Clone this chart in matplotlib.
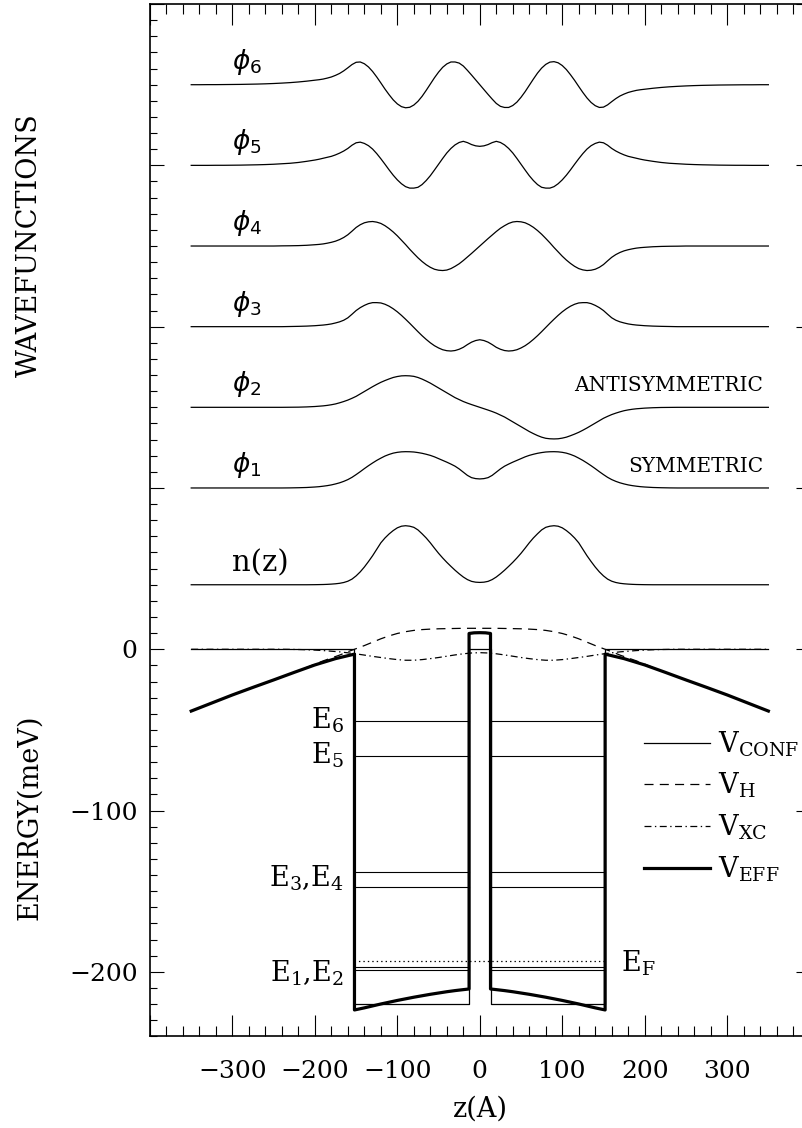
import numpy as np
import matplotlib.pyplot as plt
from matplotlib.ticker import MultipleLocator, FuncFormatter

plt.rcParams['font.family'] = 'DejaVu Serif'
plt.rcParams['mathtext.fontset'] = 'dejavuserif'
plt.rcParams['lines.scale_dashes'] = False

# sample positions for the wavefunctions and density (Angstrom)
z = list(range(-350, -200, 10)) + list(range(-200, 201, 5)) + list(range(210, 351, 10))

phi6 = [0, 0, 0.05, 0.05, 0.1, 0.15, 0.2, 0.3, 0.4, 0.55, 0.75, 1.0, 1.3, 1.7, 2.2,
        2.8, 3.1, 3.5, 4.1, 4.8, 5.8, 7.0, 8.6, 10.5, 12.5, 13.9,
        14.1, 13.0, 11.0, 8.2, 4.8, 1.1, -2.7, -6.2, -9.4, -11.9, -13.6, -14.3, -14.0, -12.6, -10.3,
        -7.2, -3.5, 0.4, 4.3, 7.8, 10.8, 12.9, 14.1, 14.1, 13.4, 11.6, 8.9, 6.0, 3.0,
        0,
        -3.0, -6.0, -8.9, -11.6, -13.4, -14.1, -14.1, -12.9, -10.8, -7.8, -4.3, -0.4, 3.5, 7.2,
        10.3, 12.6, 14.0, 14.3, 13.6, 11.9, 9.4, 6.2, 2.7, -1.1, -4.8, -8.2, -11.0, -13.0, -14.1,
        -13.9, -12.5, -10.5, -8.6, -7.0, -5.8, -4.8, -4.1, -3.5, -3.1, -2.8,
        -2.2, -1.7, -1.3, -1.0, -0.75, -0.55, -0.4, -0.3, -0.2, -0.15, -0.1, -0.05, -0.05, 0, 0]
phi5 = [0, 0, 0, 0.05, 0.05, 0.1, 0.15, 0.25, 0.35, 0.5, 0.7, 1.0, 1.3, 1.8, 2.5,
        3.3, 3.8, 4.4, 5.0, 5.6, 6.5, 7.6, 8.9, 10.5, 12.5, 14.0,
        14.4, 13.6, 12.2, 10.1, 7.3, 4.1, 0.7, -2.8, -6.1, -9.0, -11.4, -13.2, -14.1, -14.1, -13.6,
        -11.9, -9.4, -6.4, -2.9, 0.7, 4.3, 7.7, 10.5, 12.7, 14.2, 14.9, 14.1, 12.9, 12.1,
        11.8,
        12.1, 12.9, 14.1, 14.9, 14.2, 12.7, 10.5, 7.7, 4.3, 0.7, -2.9, -6.4, -9.4, -11.9,
        -13.6, -14.1, -14.1, -13.2, -11.4, -9.0, -6.1, -2.8, 0.7, 4.1, 7.3, 10.1, 12.2, 13.6, 14.4,
        14.0, 12.5, 10.5, 8.9, 7.6, 6.5, 5.6, 5.0, 4.4, 3.8, 3.3,
        2.5, 1.8, 1.3, 1.0, 0.7, 0.5, 0.35, 0.25, 0.15, 0.1, 0.05, 0.05, 0, 0, 0]
phi4 = [0, 0, 0, 0, 0, 0, 0, 0, 0, 0, 0, 0.1, 0.15, 0.25, 0.45,
        0.8, 1.0, 1.3, 1.75, 2.3, 3.0, 4.0, 5.3, 7.0, 9.2, 11.5,
        13.2, 14.4, 15.0, 15.2, 14.8, 14.0, 12.6, 10.8, 8.7, 6.3, 3.6, 0.9, -2.0, -4.7, -7.3,
        -9.6, -11.6, -13.2, -14.4, -15.0, -15.2, -14.9, -14.0, -12.6, -11.0, -9.0, -6.8, -4.6, -2.3,
        0,
        2.3, 4.6, 6.8, 9.0, 11.0, 12.6, 14.0, 14.9, 15.2, 15.0, 14.4, 13.2, 11.6, 9.6,
        7.3, 4.7, 2.0, -0.9, -3.6, -6.3, -8.7, -10.8, -12.6, -14.0, -14.8, -15.2, -15.0, -14.4, -13.2,
        -11.5, -9.2, -7.0, -5.3, -4.0, -3.0, -2.3, -1.75, -1.3, -1.0, -0.8,
        -0.45, -0.25, -0.15, -0.1, 0, 0, 0, 0, 0, 0, 0, 0, 0, 0, 0]
phi3 = [0, 0, 0, 0, 0, 0, 0, 0, 0, 0, 0, 0, 0.1, 0.2, 0.35,
        0.6, 0.8, 1.0, 1.3, 1.7, 2.3, 3.0, 4.0, 5.5, 7.7, 10.0,
        11.8, 13.2, 14.3, 14.9, 14.9, 14.7, 13.9, 12.7, 11.1, 9.2, 7.0, 4.6, 2.1, -0.5, -3.1,
        -5.6, -7.9, -10.0, -11.8, -13.2, -14.3, -14.9, -15.1, -14.8, -14.0, -12.8, -11.1, -9.6, -8.6,
        -8.1,
        -8.6, -9.6, -11.1, -12.8, -14.0, -14.8, -15.1, -14.9, -14.3, -13.2, -11.8, -10.0, -7.9, -5.6,
        -3.1, -0.5, 2.1, 4.6, 7.0, 9.2, 11.1, 12.7, 13.9, 14.7, 14.9, 14.9, 14.3, 13.2, 11.8,
        10.0, 7.7, 5.5, 4.0, 3.0, 2.3, 1.7, 1.3, 1.0, 0.8, 0.6,
        0.35, 0.2, 0.1, 0, 0, 0, 0, 0, 0, 0, 0, 0, 0, 0, 0]
phi2 = [0, 0, 0, 0, 0, 0, 0, 0, 0, 0, 0, 0, 0.05, 0.1, 0.25,
        0.5, 0.7, 0.9, 1.2, 1.6, 2.1, 2.8, 3.6, 4.5, 5.6, 6.8,
        8.3, 9.8, 11.3, 12.8, 14.2, 15.5, 16.6, 17.6, 18.5, 19.1, 19.5, 19.6, 19.5, 19.2, 18.5,
        17.5, 16.3, 15.0, 13.5, 12.0, 10.5, 9.0, 7.5, 6.0, 4.8, 3.6, 2.6, 1.7, 0.85,
        0,
        -0.85, -1.7, -2.6, -3.6, -4.8, -6.0, -7.5, -9.0, -10.5, -12.0, -13.5, -15.0, -16.3, -17.5,
        -18.5, -19.2, -19.5, -19.6, -19.5, -19.1, -18.5, -17.6, -16.6, -15.5, -14.2, -12.8, -11.3, -9.8, -8.3,
        -6.8, -5.6, -4.5, -3.6, -2.8, -2.1, -1.6, -1.2, -0.9, -0.7, -0.5,
        -0.25, -0.1, -0.05, 0, 0, 0, 0, 0, 0, 0, 0, 0, 0, 0, 0]
phi1 = [0, 0, 0, 0, 0, 0, 0, 0, 0, 0, 0, 0, 0.05, 0.15, 0.3,
        0.6, 0.8, 1.1, 1.45, 1.9, 2.5, 3.2, 4.1, 5.2, 6.6, 8.3,
        10.1, 12.0, 13.8, 15.5, 17.1, 18.5, 19.8, 20.8, 21.6, 22.1, 22.4, 22.5, 22.45, 22.3, 21.95,
        21.5, 20.9, 20.2, 19.3, 18.2, 17.1, 16.0, 14.8, 13.5, 11.8, 9.8, 7.8, 6.4, 5.8,
        5.6,
        5.8, 6.4, 7.8, 9.8, 11.8, 13.5, 14.8, 16.0, 17.1, 18.2, 19.3, 20.2, 20.9, 21.5,
        21.95, 22.3, 22.45, 22.5, 22.4, 22.1, 21.6, 20.8, 19.8, 18.5, 17.1, 15.5, 13.8, 12.0, 10.1,
        8.3, 6.6, 5.2, 4.1, 3.2, 2.5, 1.9, 1.45, 1.1, 0.8, 0.6,
        0.3, 0.15, 0.05, 0, 0, 0, 0, 0, 0, 0, 0, 0, 0, 0, 0]
density = [0, 0, 0, 0, 0, 0, 0, 0, 0, 0, 0, 0, 0, 0, 0,
           0.05, 0.1, 0.15, 0.25, 0.4, 0.6, 0.9, 1.4, 2.2, 3.5, 5.5,
           8.0, 11.0, 14.4, 18.0, 22.0, 26.0, 29.0, 31.5, 33.6, 35.3, 36.3, 36.6, 36.3, 35.6, 34.0,
           31.6, 29.0, 26.0, 22.7, 19.5, 16.6, 13.9, 11.4, 9.0, 6.8, 4.8, 3.2, 2.1, 1.6,
           1.45,
           1.6, 2.1, 3.2, 4.8, 6.8, 9.0, 11.4, 13.9, 16.6, 19.5, 22.7, 26.0, 29.0, 31.6,
           34.0, 35.6, 36.3, 36.6, 36.3, 35.3, 33.6, 31.5, 29.0, 26.0, 22.0, 18.0, 14.4, 11.0, 8.0,
           5.5, 3.5, 2.2, 1.4, 0.9, 0.6, 0.4, 0.25, 0.15, 0.1, 0.05,
           0, 0, 0, 0, 0, 0, 0, 0, 0, 0, 0, 0, 0, 0, 0]

# potentials (meV)
z_conf = [-350, -152, -152, -13, -13, 13, 13, 152, 152, 350]
v_conf = [0, 0, -220, -220, 0, 0, -220, -220, 0, 0]

z_pot = [-350, -300, -250, -240, -230, -220, -210, -200, -190, -180, -170, -160, -152,
         -140, -130, -120, -110, -100, -90, -80, -70, -60, -50, -40, -30, -20, -10, 0,
         10, 20, 30, 40, 50, 60, 70, 80, 90, 100, 110, 120, 130, 140,
         152, 160, 170, 180, 190, 200, 210, 220, 230, 240, 250, 300, 350]
v_h = [-38.3, -28.3, -19.0, -17.1, -15.2, -13.3, -11.3, -9.2, -7.2, -5.4, -3.6, -1.5, 0,
       2.3, 4.4, 6.5, 8.3, 9.8, 10.9, 11.7, 12.2, 12.5, 12.7, 12.8, 12.9, 13.0, 13.0, 13.0,
       13.0, 13.0, 12.9, 12.8, 12.7, 12.5, 12.2, 11.7, 10.9, 9.8, 8.3, 6.5, 4.4, 2.3,
       0, -1.5, -3.6, -5.4, -7.2, -9.2, -11.3, -13.3, -15.2, -17.1, -19.0, -28.3, -38.3]
v_xc = [0, 0, 0, 0, -0.05, -0.15, -0.3, -0.5, -0.8, -1.2, -1.6, -2.2, -2.7,
        -3.6, -4.4, -5.1, -5.8, -6.4, -6.8, -6.8, -6.4, -5.8, -5.1, -4.3, -3.5, -2.8, -2.3, -2.1,
        -2.3, -2.8, -3.5, -4.3, -5.1, -5.8, -6.4, -6.8, -6.8, -6.4, -5.8, -5.1, -4.4, -3.6,
        -2.7, -2.2, -1.6, -1.2, -0.8, -0.5, -0.3, -0.15, -0.05, 0, 0, 0, 0]

z_eff = [-350, -325, -300, -275, -250, -225, -200, -175, -152, -152,
         -140, -130, -120, -110, -100, -90, -80, -70, -60, -50, -40, -30, -20, -13, -13,
         -7, 0, 7,
         13, 13, 20, 30, 40, 50, 60, 70, 80, 90, 100, 110, 120, 130, 140,
         152, 152, 175, 200, 225, 250, 275, 300, 325, 350]
v_eff = [-38.3, -33.3, -28.3, -23.6, -19.0, -14.3, -9.7, -5.8, -3.0, -223.6,
         -222.3, -221.1, -219.9, -218.8, -217.7, -216.7, -215.7, -214.8, -213.9, -213.1, -212.3,
         -211.6, -211.0, -210.6, 9.8,
         10.2, 10.3, 10.2,
         9.8, -210.6, -211.0, -211.6, -212.3, -213.1, -213.9, -214.8, -215.7, -216.7, -217.7,
         -218.8, -219.9, -221.1, -222.3,
         -223.6, -3.0, -5.8, -9.7, -14.3, -19.0, -23.6, -28.3, -33.3, -38.3]

# subband energies, Fermi level and well edges
levels = [-198.8, -196.8, -147.6, -138.3, -66.1, -44.4]
e_fermi = -193.2
wells = [(-152, -13), (13, 152)]

fig = plt.figure(figsize=(8.03, 11.28), dpi=100)
ax = fig.add_axes([0.1868, 0.0812, 0.8214, 0.9152])

# stacked wavefunctions
curves = [(phi6, 350, r'$\phi_6$'), (phi5, 300, r'$\phi_5$'), (phi4, 250, r'$\phi_4$'),
          (phi3, 200, r'$\phi_3$'), (phi2, 150, r'$\phi_2$'), (phi1, 100, r'$\phi_1$')]
for vals, base, lab in curves:
    ax.plot(z, np.array(vals) + base, color='black', lw=0.9)
    ax.text(-300, base + 5, lab, fontsize=19, math_fontfamily='dejavusans',
            ha='left', va='bottom')
ax.plot(z, np.array(density) + 40, color='black', lw=0.9)
ax.text(-300, 44.5, 'n(z)', fontsize=21, ha='left', va='bottom')

ax.text(344, 160, 'ANTISYMMETRIC', fontsize=14.5, ha='right', va='baseline')
ax.text(344, 110, 'SYMMETRIC', fontsize=14.5, ha='right', va='baseline')

# potentials
l_conf, = ax.plot(z_conf, v_conf, color='black', lw=0.9)
l_h, = ax.plot(z_pot, v_h, color='black', lw=0.9, dashes=(6.5, 4.5))
l_xc, = ax.plot(z_pot, v_xc, color='black', lw=0.9, dashes=(5, 2.5, 1, 2.5))
l_eff, = ax.plot(z_eff, v_eff, color='black', lw=2.3)

for e in levels:
    for a, b in wells:
        ax.plot([a, b], [e, e], color='black', lw=0.8)
ax.plot([wells[0][0], wells[1][1]], [e_fermi, e_fermi], color='black', lw=0.9,
        dashes=(1, 2.2))

ax.text(-165, -49, r'$\mathrm{E_6}$', fontsize=19.5, ha='right', va='baseline')
ax.text(-165, -71, r'$\mathrm{E_5}$', fontsize=19.5, ha='right', va='baseline')
ax.text(-165, -147, r'$\mathrm{E_3{,}E_4}$', fontsize=19.5, ha='right', va='baseline')
ax.text(-165, -206, r'$\mathrm{E_1{,}E_2}$', fontsize=19.5, ha='right', va='baseline')
ax.text(171, -199.5, r'$\mathrm{E_F}$', fontsize=19.5, ha='left', va='baseline')

ax.legend([l_conf, l_h, l_xc, l_eff],
          [r'$\mathrm{V_{CONF}}$', r'$\mathrm{V_H}$', r'$\mathrm{V_{XC}}$', r'$\mathrm{V_{EFF}}$'],
          loc='center left', bbox_to_anchor=(199, -97.5), bbox_transform=ax.transData,
          frameon=False, fontsize=19.5, handlelength=2.45, handletextpad=0.3,
          labelspacing=0.45, borderpad=0, borderaxespad=0)

ax.set_xlim(-400, 400)
ax.set_ylim(-240, 400)
ax.xaxis.set_major_locator(MultipleLocator(100))
ax.xaxis.set_minor_locator(MultipleLocator(20))
ax.yaxis.set_major_locator(MultipleLocator(100))
ax.yaxis.set_minor_locator(MultipleLocator(10))
ax.xaxis.set_major_formatter(FuncFormatter(
    lambda v, p: ('%d' % v).replace('-', '\u2212') if abs(v) <= 300 else ''))
ax.yaxis.set_major_formatter(FuncFormatter(
    lambda v, p: ('%d' % v).replace('-', '\u2212') if v <= 0 else ''))

ax.tick_params(axis='x', which='major', direction='in', length=15, width=0.8,
               top=True, bottom=True, labelsize=18, pad=17)
ax.tick_params(axis='x', which='minor', direction='in', length=7.5, width=0.8,
               top=True, bottom=True)
ax.tick_params(axis='y', which='major', direction='in', length=10, width=0.8,
               left=True, right=True, labelsize=18, pad=9)
ax.tick_params(axis='y', which='minor', direction='in', length=5, width=0.8,
               left=True, right=True)
for s in ax.spines.values():
    s.set_linewidth(1.2)

fig.text(480 / 803, 1 - 1116.7 / 1128, 'z(A)', fontsize=19.5, ha='center', va='baseline')
fig.text(29.7 / 803, 1 - 817.5 / 1128, 'ENERGY(meV)', fontsize=19.5, rotation=90,
         ha='center', va='center')
fig.text(29.7 / 803, 1 - 245 / 1128, 'WAVEFUNCTIONS', fontsize=19.5, rotation=90,
         ha='center', va='center')

fig.savefig('out.png', dpi=100)
